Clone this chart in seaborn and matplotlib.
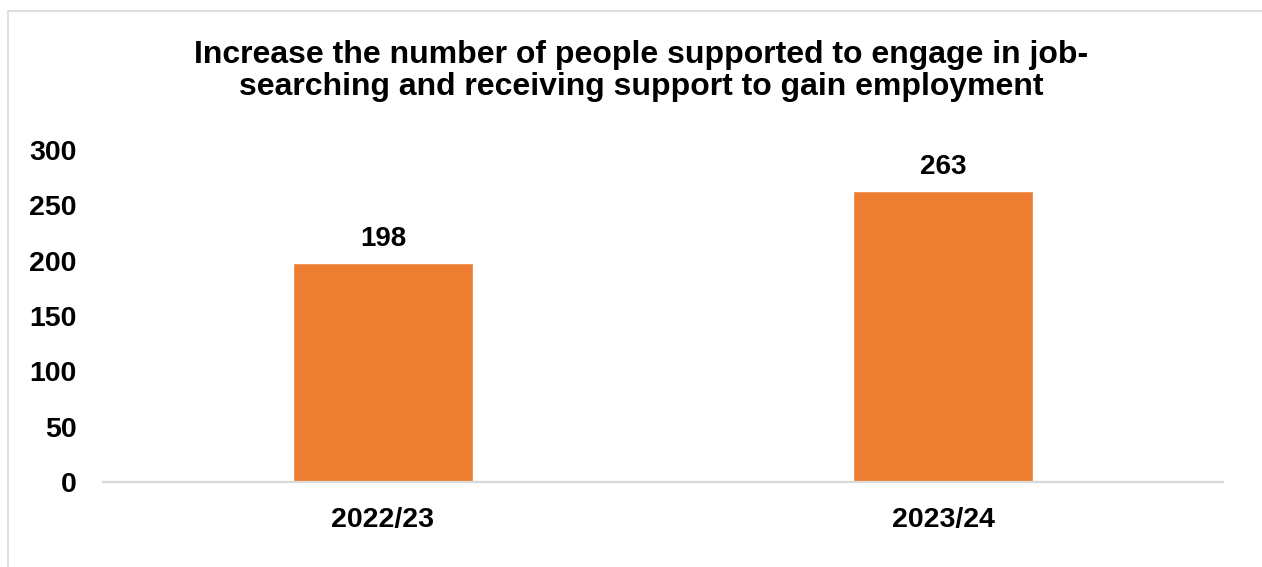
import matplotlib
matplotlib.use("Agg")
import matplotlib.pyplot as plt
import seaborn as sns
import pandas as pd
from matplotlib.patches import Rectangle

# Data
years = ["2022/23", "2023/24"]
people_supported = [198, 263]
y_ticks = [0, 50, 100, 150, 200, 250, 300]
title = ("Increase the number of people supported to engage in job-\n"
         "searching and receiving support to gain employment")

sns.set_theme(style="white")
plt.rcParams["font.family"] = ["Liberation Sans", "DejaVu Sans"]
plt.rcParams["font.weight"] = "bold"

df = pd.DataFrame({"year": years, "people": people_supported})

fig = plt.figure(figsize=(12.62, 5.67), dpi=100)
fig.patch.set_facecolor("white")

# Light chart-area frame
fig.patches.append(Rectangle((8 / 1262, -0.1), 1.2, 1.1 - 11 / 567,
                             transform=fig.transFigure, fill=False,
                             edgecolor="#D9D9D9", linewidth=1.2, zorder=0))

ax = fig.add_axes([103 / 1262, 85 / 567, 1120 / 1262, 332 / 567])

sns.barplot(data=df, x="year", y="people", color="#ED7D31", width=0.32,
            saturation=1, ax=ax, errorbar=None)

ax.set_xlim(-0.5, 1.5)
ax.set_ylim(0, 300)
ax.set_yticks(y_ticks)
ax.set_yticklabels([str(t) for t in y_ticks])
ax.set_xlabel("")
ax.set_ylabel("")

for c in ax.containers:
    ax.bar_label(c, labels=[str(v) for v in people_supported], padding=8,
                 fontsize=20, fontweight="bold", color="black")

for side in ["top", "right", "left"]:
    ax.spines[side].set_visible(False)
ax.spines["bottom"].set_color("#D9D9D9")
ax.spines["bottom"].set_linewidth(1.6)

ax.tick_params(axis="both", length=0, labelsize=20.5, colors="black")
ax.tick_params(axis="y", pad=19)
ax.tick_params(axis="x", pad=18)
for lbl in ax.get_xticklabels() + ax.get_yticklabels():
    lbl.set_fontweight("bold")

fig.text(641 / 1262, 1 - 95 / 567, title, ha="center", va="baseline",
         fontsize=23, fontweight="bold", color="black", linespacing=1.1)

fig.savefig("out.png", dpi=100, facecolor="white")
